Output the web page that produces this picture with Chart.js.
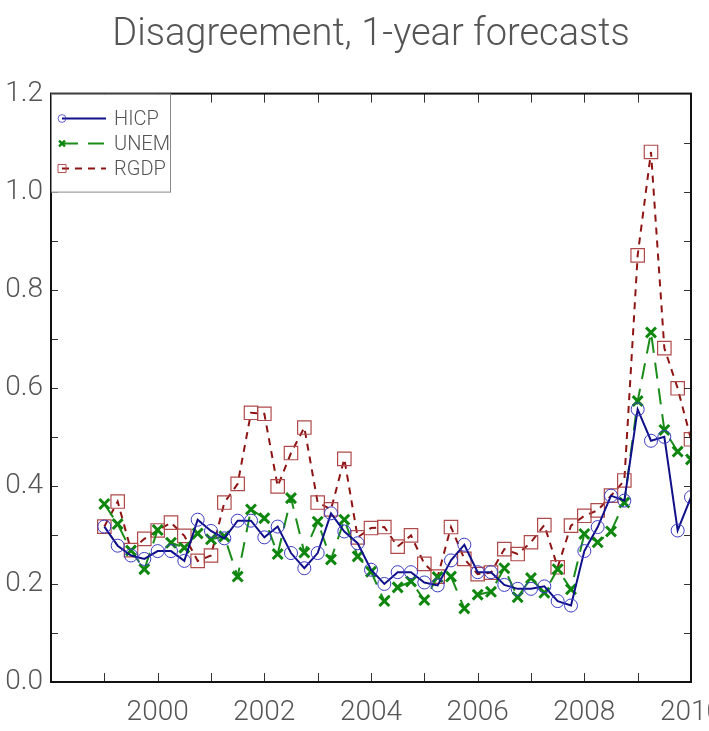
<!DOCTYPE html>
<html lang="en">
<head>
  <meta charset="UTF-8" />
  <title>Disagreement, 1-year forecasts</title>
  <style>
    html, body { margin: 0; padding: 0; background: #fff; overflow: hidden; }
  </style>
  <script src="https://cdn.jsdelivr.net/npm/chart.js"></script>
</head>
<body>
  <canvas id="chart" width="709" height="731"></canvas>
<script>
  // quarterly observations, 1999Q1 .. 2010Q1 (plotted at quarter start)
  const quarters = [
    1999.00, 1999.25, 1999.50, 1999.75, 2000.00, 2000.25, 2000.50, 2000.75,
    2001.00, 2001.25, 2001.50, 2001.75, 2002.00, 2002.25, 2002.50, 2002.75,
    2003.00, 2003.25, 2003.50, 2003.75, 2004.00, 2004.25, 2004.50, 2004.75,
    2005.00, 2005.25, 2005.50, 2005.75, 2006.00, 2006.25, 2006.50, 2006.75,
    2007.00, 2007.25, 2007.50, 2007.75, 2008.00, 2008.25, 2008.50, 2008.75,
    2009.00, 2009.25, 2009.50, 2009.75, 2010.00
  ];
  const hicp = [
    0.317, 0.278, 0.258, 0.251, 0.267, 0.267, 0.247, 0.331,
    0.308, 0.293, 0.329, 0.329, 0.295, 0.317, 0.263, 0.232,
    0.263, 0.344, 0.307, 0.283, 0.229, 0.200, 0.224, 0.224,
    0.203, 0.197, 0.248, 0.280, 0.224, 0.224, 0.198, 0.190,
    0.190, 0.195, 0.165, 0.156, 0.267, 0.316, 0.380, 0.370,
    0.556, 0.492, 0.500, 0.309, 0.377
  ];
  const unem = [
    0.363, 0.322, 0.268, 0.230, 0.310, 0.284, 0.274, 0.303,
    0.291, 0.297, 0.215, 0.352, 0.334, 0.261, 0.375, 0.264,
    0.327, 0.250, 0.331, 0.256, 0.225, 0.165, 0.193, 0.205,
    0.167, 0.214, 0.215, 0.150, 0.178, 0.184, 0.232, 0.173,
    0.212, 0.182, 0.230, 0.189, 0.302, 0.285, 0.307, 0.366,
    0.573, 0.713, 0.514, 0.470, 0.454
  ];
  const rgdp = [
    0.317, 0.368, 0.269, 0.292, 0.309, 0.325, 0.298, 0.247,
    0.258, 0.366, 0.404, 0.549, 0.547, 0.399, 0.467, 0.519,
    0.366, 0.352, 0.455, 0.295, 0.314, 0.316, 0.276, 0.299,
    0.241, 0.215, 0.316, 0.251, 0.220, 0.223, 0.271, 0.261,
    0.285, 0.320, 0.234, 0.319, 0.339, 0.350, 0.380, 0.411,
    0.870, 1.081, 0.681, 0.599, 0.495
  ];
  const xLabelYears = [2000, 2002, 2004, 2006, 2008, 2010];
  const yLabels = [0.0, 0.2, 0.4, 0.6, 0.8, 1.0, 1.2];

  const FONT = 'Roboto';
  const GREY = '#555';

  const toPoints = vals => vals.map((v, i) => ({ x: quarters[i], y: v }));

  // box + inward tick marks on all four sides
  const frame = {
    id: 'frame',
    afterDatasetsDraw(chart) {
      const { ctx, chartArea: a, scales: { x, y } } = chart;
      ctx.save();
      ctx.strokeStyle = '#333';
      ctx.lineWidth = 1;
      ctx.beginPath();
      for (let yr = 1999; yr < 2010; yr++) {
        const px = Math.round(x.getPixelForValue(yr)) + 0.5;
        ctx.moveTo(px, a.bottom); ctx.lineTo(px, a.bottom - 9);
        ctx.moveTo(px, a.top); ctx.lineTo(px, a.top + 9);
      }
      for (let k = 1; k < 12; k++) {
        const py = Math.round(y.getPixelForValue(k / 10)) + 0.5;
        ctx.moveTo(a.left, py); ctx.lineTo(a.left + 7, py);
        ctx.moveTo(a.right, py); ctx.lineTo(a.right - 7, py);
      }
      ctx.stroke();
      ctx.strokeStyle = '#111';
      ctx.lineWidth = 2;
      ctx.strokeRect(a.left, a.top, a.right - a.left, a.bottom - a.top);
      ctx.restore();
    }
  };

  // legend in the top-left corner: line sample with its marker at the left end
  const cornerLegend = {
    id: 'cornerLegend',
    afterDraw(chart) {
      const { ctx, chartArea: a } = chart;
      const w = 119, h = 98;
      ctx.save();
      ctx.fillStyle = '#fff';
      ctx.fillRect(a.left + 1, a.top + 1, w, h);
      ctx.strokeStyle = '#888';
      ctx.lineWidth = 1;
      ctx.strokeRect(a.left + 0.5, a.top + 0.5, w, h);
      chart.data.datasets.forEach((ds, i) => {
        const yy = Math.round(a.top + 24 + i * 25) + 0.5;
        ctx.setLineDash(ds.borderDash || []);
        ctx.strokeStyle = ds.borderColor;
        ctx.lineWidth = ds.borderWidth;
        ctx.beginPath();
        ctx.moveTo(a.left + 11, yy);
        ctx.lineTo(a.left + 55, yy);
        ctx.stroke();
        ctx.setLineDash([]);
        ctx.strokeStyle = ds.pointBorderColor;
        ctx.fillStyle = 'rgba(0,0,0,0)';
        ctx.lineWidth = ds.pointBorderWidth * 0.8;
        Chart.helpers.drawPoint(ctx, {
          pointStyle: ds.pointStyle, radius: ds.pointRadius * 0.6,
          borderWidth: ds.pointBorderWidth, rotation: 0
        }, a.left + 11, yy);
        ctx.fillStyle = GREY;
        ctx.font = '300 20px ' + FONT;
        ctx.textBaseline = 'middle';
        ctx.fillText(ds.label, a.left + 63, yy + 1);
      });
      ctx.restore();
    }
  };

  new Chart(document.getElementById('chart'), {
    type: 'line',
    data: {
      datasets: [{
        label: 'HICP',
        data: toPoints(hicp),
        borderColor: '#10108a',
        borderWidth: 2,
        pointStyle: 'circle',
        pointRadius: 6.5,
        pointBorderColor: '#3c3cc4',
        pointBorderWidth: 1,
        pointBackgroundColor: 'rgba(0,0,0,0)',
        tension: 0
      }, {
        label: 'UNEM',
        data: toPoints(unem),
        borderColor: '#1a8c1a',
        borderWidth: 2,
        borderDash: [16, 10],
        pointStyle: 'crossRot',
        pointRadius: 7,
        pointBorderColor: '#0f870f',
        pointBorderWidth: 3,
        pointBackgroundColor: 'rgba(0,0,0,0)',
        tension: 0
      }, {
        label: 'RGDP',
        data: toPoints(rgdp),
        borderColor: '#8e1414',
        borderWidth: 2,
        borderDash: [7, 6],
        pointStyle: 'rect',
        pointRadius: 9.5,
        pointBorderColor: '#b04a4a',
        pointBorderWidth: 1.2,
        pointBackgroundColor: 'rgba(0,0,0,0)',
        tension: 0
      }]
    },
    options: {
      responsive: false,
      animation: false,
      layout: { padding: { left: 0, top: 0, bottom: 0, right: 18 } },
      plugins: {
        legend: { display: false },
        tooltip: { enabled: false },
        title: {
          display: true,
          fullSize: false,
          text: 'Disagreement, 1-year forecasts',
          color: GREY,
          font: { family: FONT, size: 38, weight: '300' },
          padding: { top: 13, bottom: 35 }
        }
      },
      scales: {
        x: {
          type: 'linear',
          min: 1998,
          max: 2010,
          grid: { display: false, drawTicks: false },
          border: { display: false },
          afterBuildTicks: s => { s.ticks = xLabelYears.map(v => ({ value: v })); },
          ticks: {
            color: GREY, autoSkip: false, maxRotation: 0, padding: 14,
            font: { family: FONT, size: 28, weight: '300' },
            callback: v => String(v)
          },
          afterFit: s => { s.height = 49; s.paddingLeft = 0; s.paddingRight = 0; }
        },
        y: {
          min: 0,
          max: 1.2,
          grid: { display: false, drawTicks: false },
          border: { display: false },
          afterBuildTicks: s => { s.ticks = yLabels.map(v => ({ value: v })); },
          ticks: {
            color: GREY, padding: 8,
            font: { family: FONT, size: 28, weight: '300' },
            callback: v => v.toFixed(1)
          },
          afterFit: s => { s.width = 51; }
        }
      }
    },
    plugins: [frame, cornerLegend]
  });
</script>
</body>
</html>
